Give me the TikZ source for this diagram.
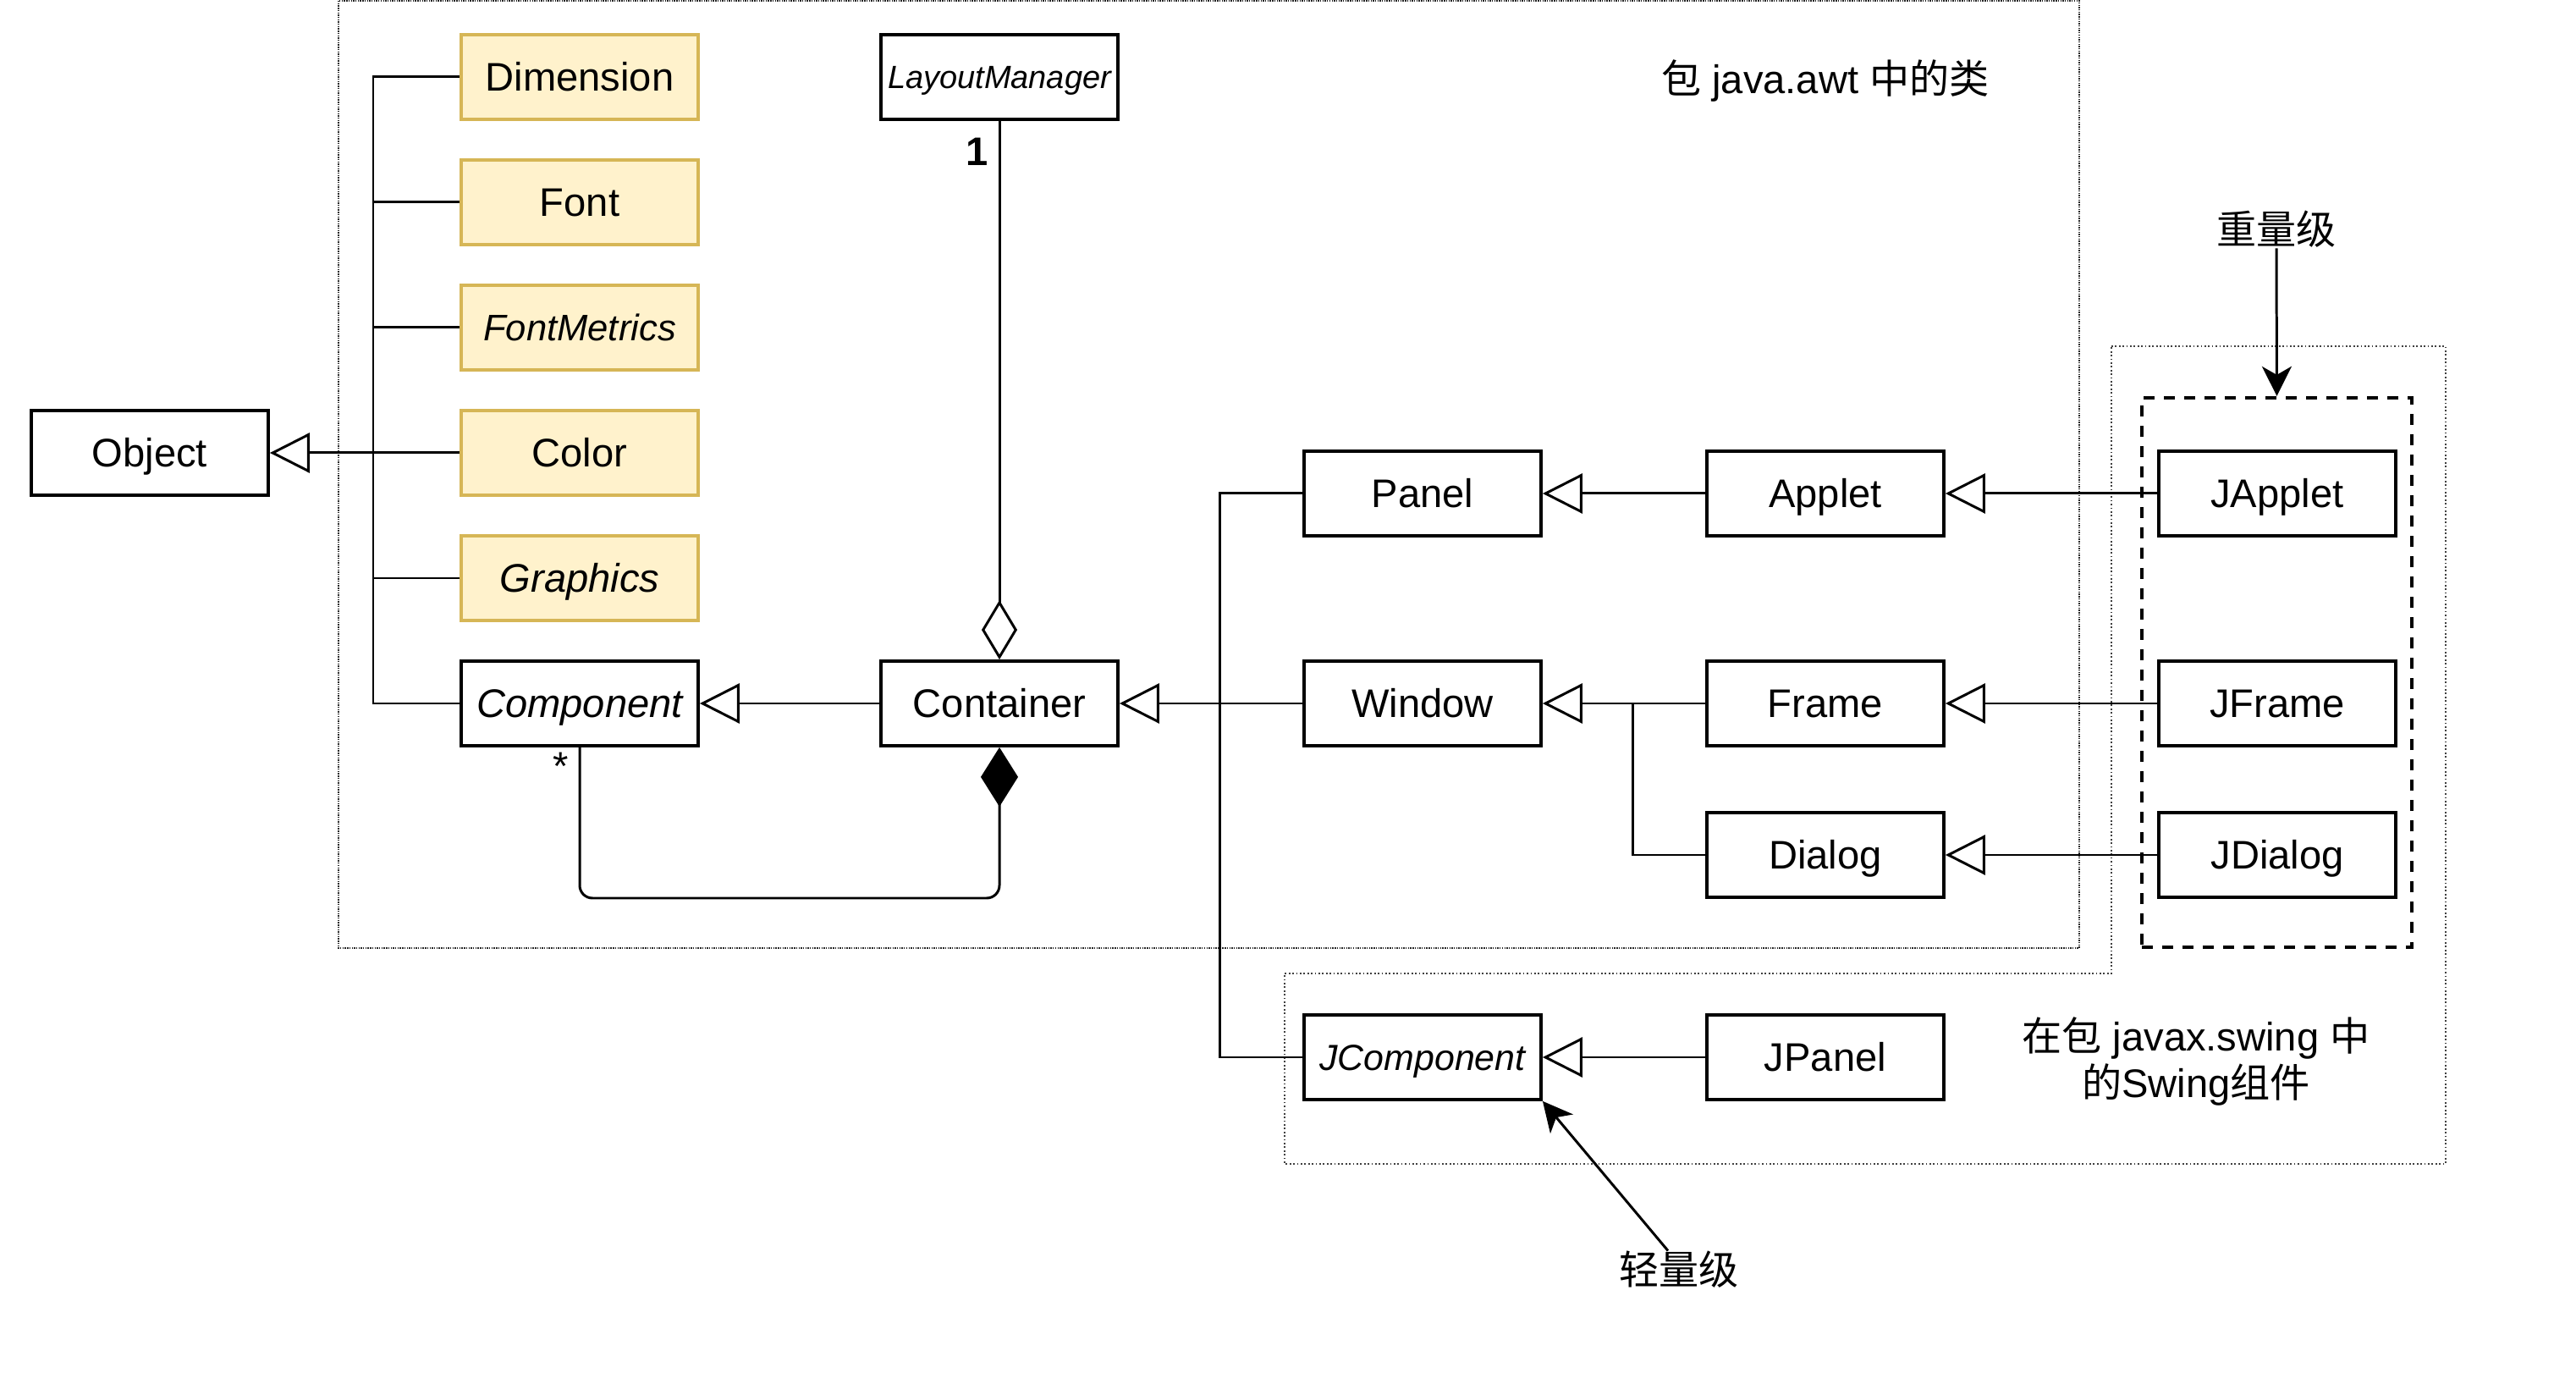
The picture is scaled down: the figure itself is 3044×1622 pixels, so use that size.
\documentclass[tikz,border=0pt]{standalone}
\usepackage{fontspec}
\setmainfont{Liberation Sans}
\newfontfamily\cjk{Noto Sans CJK SC}
\usetikzlibrary{arrows.meta}
\definecolor{yfill}{HTML}{FFF2CC}
\definecolor{ydraw}{HTML}{D6B656}
\begin{document}
\begin{tikzpicture}[x=0.01cm, y=-0.01cm,
  every node/.style={font=\fontsize{13.4pt}{16pt}\selectfont},
  cls/.style={draw, line width=1.05pt, fill=white, minimum width=2.8cm, minimum height=1cm, inner sep=0pt, text height=12.5pt, text depth=2.9pt},
  ycls/.style={cls, draw=ydraw, fill=yfill},
  conn/.style={line width=0.85pt},
  inh/.style={conn, arrows={-Triangle[open,length=0.47cm,width=0.47cm]}},
  agg/.style={conn, arrows={Diamond[open,length=0.7cm,width=0.42cm]-}},
  compo/.style={conn, arrows={Diamond[fill=black,length=0.7cm,width=0.44cm]-}},
  note/.style={conn, arrows={-Stealth[length=0.35cm,width=0.35cm,inset=0.1cm]}},
  dotawt/.style={line width=0.6pt, dash pattern=on 0.4pt off 0.37pt, black!85},
  dotswing/.style={line width=0.55pt, dash pattern=on 0.5pt off 0.75pt, black!75},
  lbl/.style={inner sep=0pt}
]
\useasboundingbox (0,0) rectangle (3044,1622);
% package frames
\draw[dotawt] (400,1) rectangle (2457,1120);
\draw[dotswing] (2495,409) -- (2890,409) -- (2890,1375) -- (1518,1375) -- (1518,1150) -- (2495,1150) -- cycle;
\node[draw, line width=1.1pt, dash pattern=on 0.13cm off 0.11cm, minimum width=3.19cm, minimum height=6.49cm, inner sep=0pt] (heavy) at (2690.5,794.5) {};

% classes
\node[cls] (obj) at (177,535) {Object};
\node[ycls] (dim) at (685,91) {Dimension};
\node[ycls] (fnt) at (685,239) {Font};
\node[ycls, font=\fontsize{12.4pt}{15pt}\selectfont, text height=11.6pt, text depth=2.7pt] (fm) at (685,387) {\itshape FontMetrics};
\node[ycls] (col) at (685,535) {Color};
\node[ycls] (gra) at (685,683) {\itshape Graphics};
\node[cls] (comp) at (685,831) {\itshape Component};
\node[cls, font=\fontsize{10.8pt}{13pt}\selectfont, text height=10.2pt, text depth=2.4pt] (lm) at (1181,91) {\itshape LayoutManager};
\node[cls] (cont) at (1181,831) {Container};
\node[cls] (pan) at (1681,583) {Panel};
\node[cls] (win) at (1681,831) {Window};
\node[cls, font=\fontsize{12.2pt}{14pt}\selectfont, text height=11.4pt, text depth=2.6pt] (jcomp) at (1681,1249) {\itshape JComponent};
\node[cls] (app) at (2157,583) {Applet};
\node[cls] (frm) at (2157,831) {Frame};
\node[cls] (dia) at (2157,1010) {Dialog};
\node[cls] (jpan) at (2157,1249) {JPanel};
\node[cls] (japp) at (2691,583) {JApplet};
\node[cls] (jfrm) at (2691,831) {JFrame};
\node[cls] (jdia) at (2691,1010) {JDialog};

% texts
\node (awt) at (2157,95) {{\cjk 包} java.awt {\cjk 中的类}};
\node[lbl] (heavyt) at (2690,271) {\cjk 重量级};
\node[lbl] (light) at (1984,1500) {\cjk 轻量级};
\node[align=center, font=\fontsize{13.4pt}{15.4pt}\selectfont] (swing) at (2595,1254) {{\cjk 在包} javax.swing {\cjk 中}\\{\cjk 的}Swing{\cjk 组件}};
\node[lbl, font=\bfseries\fontsize{13.4pt}{16pt}\selectfont] (one) at (1155,179) {1};
\node[lbl] (star) at (663,905) {*};

% helper coordinates
\coordinate (t1) at (441,0);
\coordinate (t2) at (1441,0);
\coordinate (t3) at (1929,0);
\coordinate (cb) at (0,1061);

% connectors to Object
\draw[conn] (dim.west) -- (dim.west -| t1) -- (comp.west -| t1) -- (comp.west);
\draw[conn] (fnt.west) -- (fnt.west -| t1);
\draw[conn] (fm.west) -- (fm.west -| t1);
\draw[conn] (gra.west) -- (gra.west -| t1);
\draw[inh] (col.west) -- (obj.east);

\draw[inh] (cont.west) -- (comp.east);
\draw[inh] (win.west) -- (cont.east);
\draw[conn] (pan.west) -- (pan.west -| t2) -- (jcomp.west -| t2) -- (jcomp.west);
\draw[inh] (app.west) -- (pan.east);
\draw[inh] (frm.west) -- (win.east);
\draw[conn] (dia.west) -- (dia.west -| t3) -- (win.east -| t3);
\draw[inh] (japp.west) -- (app.east);
\draw[inh] (jfrm.west) -- (frm.east);
\draw[inh] (jdia.west) -- (dia.east);
\draw[inh] (jpan.west) -- (jcomp.east);

\draw[agg] (cont.north) -- (lm.south);
\draw[compo, rounded corners=0.15cm] (cont.south) -- (cont.south |- cb) -| (comp.south);

\draw[note] (heavyt.south) -- (heavy.north);
\draw[note] ([xshift=-0.13cm]light.north) -- (jcomp.south east);
\end{tikzpicture}
\end{document}
